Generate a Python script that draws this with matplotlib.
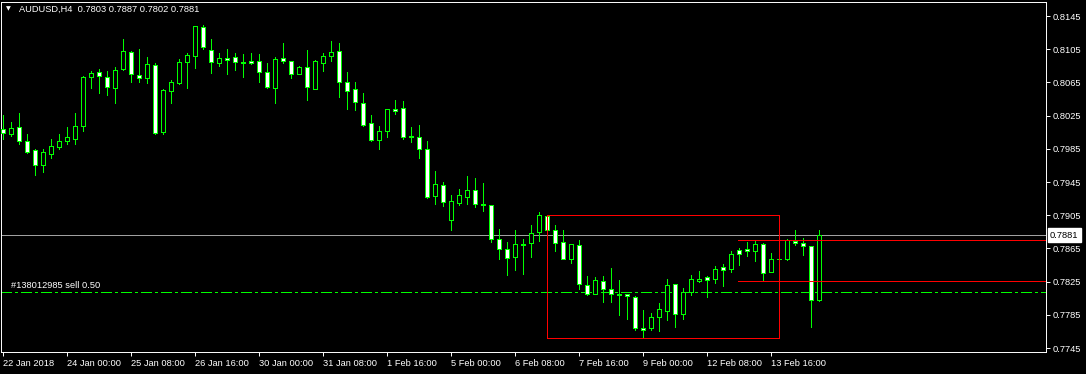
import matplotlib
matplotlib.use("Agg")
import matplotlib.pyplot as plt
import matplotlib.transforms as mtransforms

# AUDUSD H4 candles (open, high, low, close)
opens = [0.80089, 0.80032, 0.80113, 0.79944, 0.79832, 0.79659, 0.79791, 0.79876, 0.79944, 0.79972,
         0.80129, 0.80712, 0.80772, 0.80712, 0.80579, 0.80808, 0.81013, 0.80736, 0.80700, 0.80856,
         0.80049, 0.80543, 0.80639, 0.80892, 0.80965, 0.81314, 0.81037, 0.80888, 0.80944, 0.80953,
         0.80896, 0.80908, 0.80904, 0.80772, 0.80586, 0.80941, 0.80904, 0.80755, 0.80832, 0.80574,
         0.80888, 0.80972, 0.81025, 0.80651, 0.80567, 0.80398, 0.80157, 0.79960, 0.80061, 0.80330,
         0.80338, 0.80004, 0.79992, 0.79848, 0.79285, 0.79414, 0.78996, 0.79201, 0.79273, 0.79350,
         0.79189, 0.79170, 0.78760, 0.78639, 0.78550, 0.78707, 0.78712, 0.78844, 0.79041, 0.78868,
         0.78724, 0.78526, 0.78688, 0.78206, 0.78105, 0.78258, 0.78157, 0.78101, 0.78097, 0.78068,
         0.77691, 0.77695, 0.77827, 0.77900, 0.78218, 0.77864, 0.78129, 0.78261, 0.78306, 0.78282,
         0.78426, 0.78402, 0.78627, 0.78639, 0.78623, 0.78700, 0.78370, 0.78519, 0.78526, 0.78743,
         0.78712, 0.78676, 0.78030]
highs = [0.80257, 0.80173, 0.80282, 0.80029, 0.79848, 0.79848, 0.79968, 0.80029, 0.80113, 0.80282,
         0.80727, 0.80788, 0.80812, 0.80788, 0.80836, 0.81173, 0.81029, 0.81053, 0.80956, 0.80880,
         0.80571, 0.80679, 0.80932, 0.81001, 0.81330, 0.81338, 0.81170, 0.81004, 0.81053, 0.81001,
         0.80989, 0.81004, 0.80989, 0.80880, 0.80956, 0.81125, 0.80904, 0.80848, 0.81041, 0.80917,
         0.81004, 0.81149, 0.81125, 0.80776, 0.80655, 0.80523, 0.80261, 0.80125, 0.80330, 0.80442,
         0.80426, 0.80113, 0.80137, 0.79944, 0.79583, 0.79450, 0.79294, 0.79366, 0.79523, 0.79498,
         0.79438, 0.79173, 0.78884, 0.78727, 0.78872, 0.78764, 0.78932, 0.79089, 0.79053, 0.78932,
         0.78872, 0.78700, 0.78748, 0.78318, 0.78306, 0.78318, 0.78414, 0.78270, 0.78097, 0.78080,
         0.77908, 0.77868, 0.77989, 0.78278, 0.78218, 0.78170, 0.78330, 0.78378, 0.78318, 0.78438,
         0.78462, 0.78615, 0.78651, 0.78727, 0.78736, 0.78712, 0.78595, 0.78525, 0.78764, 0.78872,
         0.78772, 0.78679, 0.78870]
lows = [0.79965, 0.80004, 0.79908, 0.79800, 0.79535, 0.79574, 0.79743, 0.79851, 0.79912, 0.79912,
        0.80068, 0.80583, 0.80523, 0.80498, 0.80402, 0.80796, 0.80655, 0.80659, 0.80643, 0.80032,
        0.80032, 0.80406, 0.80635, 0.80586, 0.80827, 0.81056, 0.80767, 0.80851, 0.80755, 0.80800,
        0.80719, 0.80868, 0.80659, 0.80586, 0.80406, 0.80888, 0.80707, 0.80748, 0.80442, 0.80574,
        0.80788, 0.80908, 0.80478, 0.80333, 0.80321, 0.80129, 0.79948, 0.79851, 0.79996, 0.80273,
        0.79972, 0.79936, 0.79743, 0.79261, 0.79189, 0.79165, 0.78876, 0.79173, 0.79189, 0.79153,
        0.79104, 0.78731, 0.78526, 0.78333, 0.78394, 0.78342, 0.78550, 0.78743, 0.78860, 0.78623,
        0.78519, 0.78478, 0.78157, 0.78092, 0.78097, 0.78008, 0.78001, 0.77851, 0.77796, 0.77667,
        0.77579, 0.77667, 0.77659, 0.77788, 0.77707, 0.77800, 0.78092, 0.78245, 0.78065, 0.78233,
        0.78197, 0.78370, 0.78450, 0.78562, 0.78502, 0.78261, 0.78370, 0.78515, 0.78511, 0.78691,
        0.78571, 0.77703, 0.78020]
closes = [0.80041, 0.80101, 0.79948, 0.79815, 0.79651, 0.79808, 0.79880, 0.79944, 0.79992, 0.80125,
          0.80712, 0.80760, 0.80724, 0.80591, 0.80796, 0.81025, 0.80748, 0.80707, 0.80868, 0.80037,
          0.80555, 0.80651, 0.80892, 0.80977, 0.81326, 0.81073, 0.80892, 0.80941, 0.80924, 0.80892,
          0.80888, 0.80884, 0.80772, 0.80591, 0.80929, 0.80912, 0.80748, 0.80832, 0.80591, 0.80904,
          0.80965, 0.81013, 0.80651, 0.80550, 0.80410, 0.80141, 0.79953, 0.80061, 0.80326, 0.80309,
          0.79996, 0.79992, 0.79851, 0.79273, 0.79423, 0.79213, 0.79218, 0.79294, 0.79350, 0.79189,
          0.79177, 0.78767, 0.78647, 0.78538, 0.78703, 0.78695, 0.78832, 0.79053, 0.78868, 0.78712,
          0.78519, 0.78700, 0.78218, 0.78097, 0.78266, 0.78157, 0.78097, 0.78089, 0.78080, 0.77688,
          0.77671, 0.77820, 0.77917, 0.78206, 0.77864, 0.78121, 0.78278, 0.78282, 0.78273, 0.78402,
          0.78394, 0.78583, 0.78586, 0.78615, 0.78700, 0.78358, 0.78519, 0.78519, 0.78755, 0.78719,
          0.78683, 0.78030, 0.78810]

# time axis labels every 8 bars
time_tick_bars = [0, 8, 16, 24, 32, 40, 48, 56, 64, 72, 80, 88, 96]
time_labels = ['22 Jan 2018', '24 Jan 00:00', '25 Jan 08:00', '26 Jan 16:00', '30 Jan 00:00',
               '31 Jan 08:00', '1 Feb 16:00', '5 Feb 00:00', '6 Feb 08:00', '7 Feb 16:00',
               '9 Feb 00:00', '12 Feb 08:00', '13 Feb 16:00']
price_ticks = [0.8145, 0.8105, 0.8065, 0.8025, 0.7985, 0.7945, 0.7905, 0.7865, 0.7825, 0.7785, 0.7745]

# objects drawn on the chart
last_price = 0.7881
order_price = 0.7813
order_label = '#138012985 sell 0.50'
box_bars = (68, 97.0)
box_prices = (0.77571, 0.79053)
red_levels = [0.78751, 0.78258]
red_start_bar = 91.9
header = 'AUDUSD,H4  0.7803 0.7887 0.7802 0.7881'

GREEN = '#00ff00'
FONT = 'Liberation Sans'
LW = 0.7  # ~1 px
W, H = 1086, 374

fig = plt.figure(figsize=(W / 100, H / 100), dpi=100, facecolor='black')
ax = fig.add_axes([1 / W, 22 / H, 1045 / W, 350 / H], facecolor='black')

bars = list(range(len(opens)))

# wicks
ax.vlines(bars, lows, highs, color=GREEN, linewidth=LW, antialiased=False, zorder=2)

# bodies: bull = black with green outline, bear = white with green outline
for i in bars:
    o, c = opens[i], closes[i]
    face = 'black' if c > o else 'white'
    ax.bar(i, abs(c - o), bottom=min(o, c), width=0.45, facecolor=face,
           edgecolor=GREEN, linewidth=LW, antialiased=False, zorder=3)

# current price line
ax.axhline(last_price, color='#a0a0a0', linewidth=LW, antialiased=False, zorder=1)

# order line
ax.axhline(order_price, color=GREEN, linewidth=LW, dashes=(11, 4, 3, 4), antialiased=False, zorder=1)
ax.text(1, order_price + 0.00015, order_label, color='white', fontsize=6.7, family=FONT,
        va='bottom', ha='left')

# rectangle and red levels
x0, x1 = box_bars
y0, y1 = box_prices
ax.plot([x0, x1, x1, x0, x0], [y0, y0, y1, y1, y0], color='#ff0000', linewidth=LW,
        antialiased=False, zorder=4)
for lvl in red_levels:
    ax.plot([red_start_bar, 140], [lvl, lvl], color='#ff0000', linewidth=LW,
            antialiased=False, zorder=4)

ax.set_xlim(-0.25, 130.375)
ax.set_ylim(0.77402, 0.81619)

# frame
for s in ax.spines.values():
    s.set_color('white')
    s.set_linewidth(LW)

ax.yaxis.tick_right()
ax.set_yticks(price_ticks)
ax.set_yticklabels(['%.4f' % p for p in price_ticks])
ax.set_xticks(time_tick_bars)
ax.set_xticklabels(time_labels)
ax.tick_params(colors='white', length=3, width=LW, labelsize=6.7, pad=2)
for lab in ax.get_xticklabels():
    lab.set_horizontalalignment('left')
    lab.set_family(FONT)
    lab.set_color('white')
for lab in ax.get_yticklabels():
    lab.set_family(FONT)
    lab.set_color('white')

# current price label on the scale
trans = mtransforms.blended_transform_factory(ax.transAxes, ax.transData)
ax.text(1.0 + 4 / 1045, last_price, '%.4f' % last_price, transform=trans, color='black',
        fontsize=6.7, family=FONT, va='center', ha='left', clip_on=False, zorder=10,
        bbox=dict(boxstyle='square,pad=0.25', facecolor='white', edgecolor='white'))

# header
fig.text(6 / W, 1 - 9 / H, '\u25bc', color='white', fontsize=4.5, family='DejaVu Sans',
         va='center', ha='left')
fig.text(19 / W, 1 - 9 / H, header, color='white', fontsize=6.7, family=FONT,
         va='center', ha='left')

fig.savefig('out.png', dpi=100, facecolor='black')
